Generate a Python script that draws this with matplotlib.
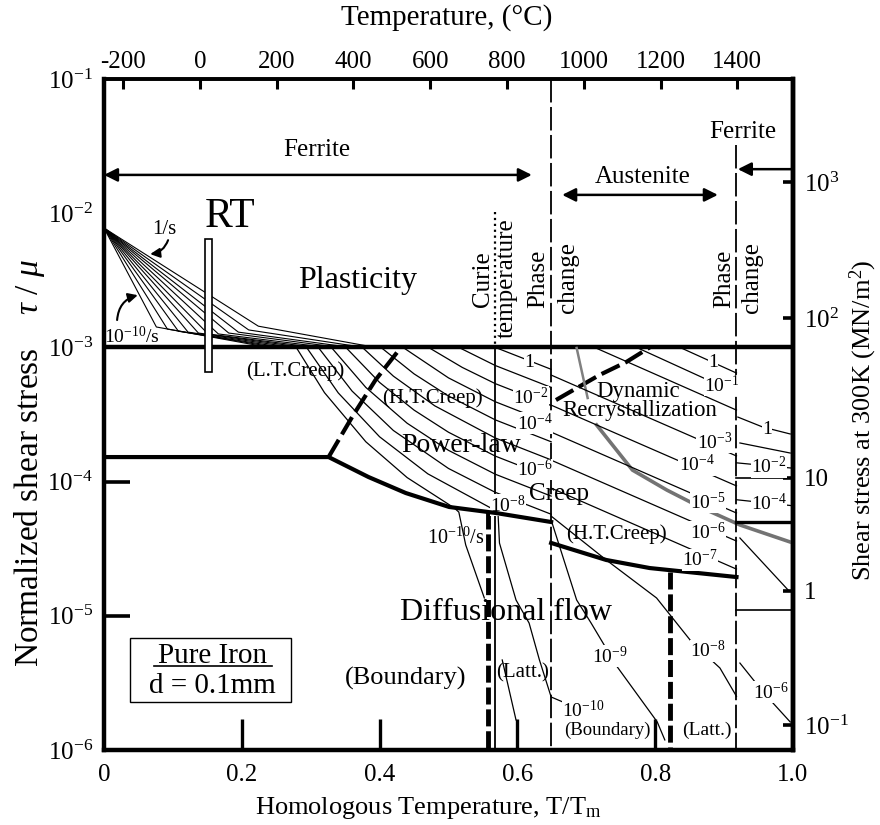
import matplotlib
matplotlib.use("Agg")
import matplotlib.pyplot as plt
from matplotlib.patches import Rectangle
from matplotlib.ticker import NullLocator
import numpy as np

plt.rcParams['font.family'] = ['Liberation Serif', 'DejaVu Serif']
plt.rcParams['mathtext.fontset'] = 'custom'
plt.rcParams['mathtext.rm'] = 'Liberation Serif'
plt.rcParams['mathtext.it'] = 'Liberation Serif:italic'
plt.rcParams['axes.unicode_minus'] = False

# top axis conversion: T/Tm = (C + offset) / scale
C_SCALE, C_OFFSET = 1795.0, 250.0

X_TICKS = [0, 0.2, 0.4, 0.6, 0.8, 1.0]
X_LABELS = ['0', '0.2', '0.4', '0.6', '0.8', '1.0']
Y_TICKS = [1e-6, 1e-5, 1e-4, 1e-3, 1e-2, 1e-1]
TOP_TICKS = [-200, 0, 200, 400, 600, 800, 1000, 1200, 1400]
# shear stress at 300 K (MN/m^2) ticks, placed where the picture puts them (log10 tau/mu)
RIGHT_TICK_LOG = [-5.814, -4.815, -3.973, -2.781, -1.767]
RIGHT_LABELS = ['10$^{-1}$', '1', '10', '10$^{2}$', '10$^{3}$']

# phase / mechanism boundaries, h = T/Tm, values are log10(tau/mu)
CURIE_H = 0.568
PHASE_H = [0.649, 0.918]
PHASE2_TOP_LOG = -1.49
CURIE_TOP_LOG = -1.99
PL_FERRITE_H = [0.0, 0.326, 0.384, 0.438, 0.501, 0.569, 0.649]
PL_FERRITE_LOG = [-3.817, -3.817, -3.966, -4.085, -4.189, -4.234, -4.301]
PL_AUST_H = [0.649, 0.729, 0.792, 0.918]
PL_AUST_LOG = [-4.457, -4.584, -4.644, -4.711]
LTHT_H = [0.326, 0.360, 0.394, 0.431]
LTHT_LOG = [-3.817, -3.519, -3.243, -3.0]
DRX_DASH_H = [0.656, 0.719, 0.758, 0.792]
DRX_DASH_LOG = [-3.392, -3.206, -3.109, -3.0]
DRX_GRAY_H = [0.715, 0.767, 0.817, 0.865, 0.923, 0.996]
DRX_GRAY_LOG = [-3.578, -3.914, -4.063, -4.189, -4.323, -4.45]
DRX_SMALL_H = [0.686, 0.702]
DRX_SMALL_LOG = [-3.004, -3.377]
GB_LATT_H = [0.557, 0.821]            # thick dashed verticals
GB_LATT_TOP_LOG = [-4.226, -4.674]
HIGH_FERRITE_THIN_LOG = [-3.973, -4.957]
HIGH_FERRITE_THICK_LOG = [-4.301]

# plasticity fan (1/s ... 1e-10/s), origin, knees, ends on the 1e-3 line
FAN_ORIGIN = (0.0, 7.76e-3)
FAN_KNEE_H = [0.224, 0.210, 0.195, 0.181, 0.166, 0.151, 0.137, 0.122, 0.108, 0.092, 0.076]
FAN_KNEE_S = [1.44e-3, 1.35e-3, 1.30e-3, 1.28e-3, 1.26e-3, 1.26e-3, 1.28e-3, 1.30e-3,
              1.32e-3, 1.37e-3, 1.42e-3]
FAN_END_H = [0.394, 0.377, 0.358, 0.341, 0.323, 0.306, 0.290, 0.275, 0.261, 0.249, 0.239]

# power-law creep contours in ferrite, 1/s down to 1e-10/s
FERRITE_PL = [
    ([0.568, 0.649], [-3.000, -3.163]),
    ([0.515, 0.568, 0.649], [-3.0, -3.135, -3.298]),
    ([0.471, 0.52, 0.568, 0.649], [-3.0, -3.149, -3.270, -3.433]),
    ([0.434, 0.50, 0.568, 0.649], [-3.0, -3.227, -3.405, -3.568]),
    ([0.402, 0.45, 0.50, 0.568, 0.649], [-3.0, -3.197, -3.362, -3.540, -3.703]),
    ([0.375, 0.42, 0.48, 0.568, 0.649], [-3.0, -3.214, -3.435, -3.675, -3.838]),
    ([0.351, 0.40, 0.45, 0.50, 0.568, 0.649], [-3.0, -3.261, -3.467, -3.632, -3.810, -3.973]),
    ([0.330, 0.38, 0.44, 0.50, 0.568, 0.649], [-3.0, -3.298, -3.565, -3.767, -3.945, -4.108]),
    ([0.311, 0.36, 0.42, 0.50, 0.568, 0.649], [-3.0, -3.325, -3.619, -3.902, -4.080, -4.243]),
    ([0.294, 0.34, 0.40, 0.47, 0.568, 0.584], [-3.0, -3.339, -3.666, -3.942, -4.215, -4.25]),
    ([0.279, 0.32, 0.38, 0.44, 0.508, 0.515, 0.525, 0.552],
     [-3.0, -3.337, -3.703, -3.970, -4.195, -4.227, -4.472, -4.867]),
]
PARA_LABELS = ['1', '10$^{-2}$', '10$^{-4}$', '10$^{-6}$', '10$^{-8}$']
PARA_LABEL_H = [0.617, 0.620, 0.625, 0.625, 0.586]
PARA_LABEL_LOG = [-3.116, -3.370, -3.565, -3.910, -4.175]

# austenite contours
AUST_PL = [
    ([0.836, 0.918], [-3.0, -3.191]),
    ([0.773, 0.918], [-3.0, -3.340]),
    ([0.712, 0.918], [-3.0, -3.467]),
    ([0.649, 0.918], [-3.206, -3.809]),
    ([0.649, 0.918], [-3.430, -4.032]),
    ([0.649, 0.918], [-3.631, -4.234]),
    ([0.649, 0.918], [-3.840, -4.443]),
    ([0.649, 0.918], [-4.048, -4.652]),
    ([0.649, 0.729, 0.802, 0.853, 0.894, 0.918], [-4.257, -4.584, -4.867, -5.195, -5.389, -5.600]),
    ([0.649, 0.686, 0.707, 0.745, 0.803, 0.814], [-4.286, -4.882, -5.054, -5.381, -5.791, -5.925]),
]
AUST_LABELS = ['1', '10$^{-1}$', '10$^{-3}$', '10$^{-4}$', '10$^{-5}$', '10$^{-6}$', '10$^{-7}$',
               '10$^{-8}$', '10$^{-9}$', '10$^{-10}$']
AUST_LABEL_H = [0.884, 0.897, 0.886, 0.860, 0.876, 0.876, 0.865, 0.876, 0.734, 0.696]
AUST_LABEL_LOG = [-3.109, -3.285, -3.705, -3.876, -4.152, -4.376, -4.584, -5.262, -5.300, -5.702]

# diffusional contours near the Curie line
PARA_DIFF = [
    ([0.572, 0.574, 0.598, 0.617, 0.632, 0.649, 0.665],
     [-4.249, -4.458, -4.882, -5.054, -5.329, -5.605, -5.64]),
    ([0.578, 0.598], [-5.329, -5.776]),
]

# high temperature ferrite contours
HIGH_FERRITE = [
    ([0.920, 0.956, 0.996], [-3.519, -3.593, -3.645]),
    ([0.923, 0.996], [-3.712, -3.787]),
    ([0.918, 1.0], [-3.86, -3.90]),
    ([0.918, 1.0], [-4.135, -4.18]),
    ([0.923, 0.993], [-4.420, -4.808]),
    ([0.923, 0.945, 0.971, 0.996], [-5.352, -5.493, -5.650, -5.791]),
]
HIGH_LABELS = ['1', '10$^{-2}$', '10$^{-4}$', '10$^{-6}$']
HIGH_LABEL_H = [0.962, 0.965, 0.965, 0.968]
HIGH_LABEL_LOG = [-3.615, -3.891, -4.165, -5.568]


def h2c(h):
    return np.asarray(h) * C_SCALE - C_OFFSET


def c2h(c):
    return (np.asarray(c) + C_OFFSET) / C_SCALE


def line(ax, h, lg, **kw):
    kw.setdefault('color', 'k')
    ax.plot(h, 10.0 ** np.asarray(lg, dtype=float), **kw)


def main():
    fig = plt.figure(figsize=(8.8, 8.25), dpi=100)
    ax = fig.add_axes([0.1182, 0.0909, 0.7829, 0.8133])
    ax.set_yscale('log')
    ax.set_xlim(0, 1)
    ax.set_ylim(1e-6, 1e-1)
    for side, w in [('left', 3.2), ('bottom', 3.2), ('top', 2.6), ('right', 3.2)]:
        ax.spines[side].set_linewidth(w)

    ax.set_xticks(X_TICKS)
    ax.set_xticklabels(X_LABELS)
    ax.set_yticks(Y_TICKS)
    ax.yaxis.set_minor_locator(NullLocator())
    ax.xaxis.set_minor_locator(NullLocator())
    ax.tick_params(axis='x', direction='in', length=22, width=2.4, labelsize=18, pad=10)
    ax.tick_params(axis='y', direction='in', length=19, width=2.6, labelsize=18, pad=8)
    for t, v in zip(ax.yaxis.get_major_ticks(), Y_TICKS):
        if v in (1e-6, 1e-3, 1e-2, 1e-1):
            t.tick1line.set_visible(False)
    for t, v in zip(ax.xaxis.get_major_ticks(), X_TICKS):
        if v in (0, 1.0):
            t.tick1line.set_visible(False)

    top = ax.secondary_xaxis('top', functions=(h2c, c2h))
    top.set_xticks(TOP_TICKS)
    top.xaxis.set_minor_locator(NullLocator())
    top.tick_params(direction='in', length=7, width=2.2, labelsize=18, pad=4)
    top.spines['top'].set_linewidth(2.6)

    right = ax.secondary_yaxis('right')
    right.set_yticks(10.0 ** np.array(RIGHT_TICK_LOG))
    right.set_yticklabels(RIGHT_LABELS)
    right.yaxis.set_minor_locator(NullLocator())
    right.tick_params(direction='in', length=7, width=2.6, labelsize=18, pad=8)
    right.spines['right'].set_linewidth(3.2)

    fig.text(0.508, 1 - 18 / 825, 'Temperature, (°C)', ha='center', va='center', fontsize=21)
    fig.text(428 / 880, 1 - 808 / 825, 'Homologous Temperature, T/T$_\\mathrm{m}$',
             ha='center', va='center', fontsize=19)
    fig.text(30 / 880, 1 - 463 / 825, 'Normalized shear stress    $\\tau$ / $\\mu$', rotation=90,
             ha='center', va='center', fontsize=24)
    fig.text(863 / 880, 1 - 420 / 825, 'Shear stress at 300K (MN/m$^2$)', rotation=90,
             ha='center', va='center', fontsize=19)

    # main boundaries
    ax.plot([0, 1], [1e-3, 1e-3], color='k', lw=3.2)
    line(ax, PL_FERRITE_H, PL_FERRITE_LOG, lw=3.0, zorder=7)
    line(ax, PL_AUST_H, PL_AUST_LOG, lw=3.0)
    line(ax, LTHT_H, LTHT_LOG, lw=3.0, ls=(0, (4.8, 1.5)))
    line(ax, DRX_DASH_H, DRX_DASH_LOG, lw=3.0, ls=(0, (4.8, 1.5)))
    line(ax, DRX_GRAY_H, DRX_GRAY_LOG, lw=2.6, color='0.45')
    line(ax, DRX_SMALL_H, DRX_SMALL_LOG, lw=1.8, color='0.5')
    for h, lg in zip(GB_LATT_H, GB_LATT_TOP_LOG):
        line(ax, [h, h], [lg, -6.0], lw=3.5, ls=(0, (3.5, 1.0)))

    line(ax, [CURIE_H, CURIE_H], [CURIE_TOP_LOG, -3.0], lw=1.6, ls=':')
    line(ax, [CURIE_H, CURIE_H], [-3.0, -6.0], lw=1.3)
    line(ax, [PHASE_H[0]] * 2, [-1.0, -6.0], lw=1.3, ls=(0, (13, 2.5)))
    line(ax, [PHASE_H[1]] * 2, [PHASE2_TOP_LOG, -6.0], lw=1.3, ls=(0, (13, 2.5)))
    for lg in HIGH_FERRITE_THIN_LOG:
        line(ax, [PHASE_H[1], 1.0], [lg, lg], lw=1.2)
    for lg in HIGH_FERRITE_THICK_LOG:
        line(ax, [PHASE_H[1], 1.0], [lg, lg], lw=2.4)

    # plasticity fan
    for kh, ks, eh in zip(FAN_KNEE_H, FAN_KNEE_S, FAN_END_H):
        ax.plot([FAN_ORIGIN[0], kh, eh], [FAN_ORIGIN[1], ks, 1e-3], color='k', lw=0.8)
    ax.add_patch(Rectangle((0.147, 6.56e-4), 0.010, 6.43e-3 - 6.56e-4, fc='white',
                           ec='k', lw=1.2, zorder=5))

    # strain rate contours
    for h, lg in FERRITE_PL + AUST_PL + PARA_DIFF + HIGH_FERRITE:
        line(ax, h, lg, lw=0.9)

    lab = dict(ha='center', va='center', fontsize=14, zorder=6,
               bbox=dict(fc='white', ec='none', pad=0.2))
    for txt, h, lg in zip(PARA_LABELS + AUST_LABELS + HIGH_LABELS,
                          PARA_LABEL_H + AUST_LABEL_H + HIGH_LABEL_H,
                          PARA_LABEL_LOG + AUST_LABEL_LOG + HIGH_LABEL_LOG):
        ax.text(h, 10 ** lg, txt, **lab)

    # arrows
    ax.annotate('', xy=(0.0, 1.93e-2), xytext=(0.621, 1.93e-2),
                arrowprops=dict(arrowstyle='<|-|>', lw=1.8, color='k', mutation_scale=20,
                                shrinkA=0, shrinkB=0))
    ax.annotate('', xy=(0.665, 1.37e-2), xytext=(0.891, 1.37e-2),
                arrowprops=dict(arrowstyle='<|-|>', lw=1.8, color='k', mutation_scale=20,
                                shrinkA=0, shrinkB=0))
    ax.annotate('', xy=(0.92, 2.13e-2), xytext=(1.0, 2.13e-2),
                arrowprops=dict(arrowstyle='-|>', lw=1.8, color='k', mutation_scale=20,
                                shrinkA=0, shrinkB=0))
    ax.annotate('', xy=(0.067, 4.96e-3), xytext=(0.093, 6.3e-3),
                arrowprops=dict(arrowstyle='-|>', lw=1.5, color='k', mutation_scale=14,
                                shrinkA=0, shrinkB=0, connectionstyle='arc3,rad=-0.3'))
    ax.annotate('', xy=(0.049, 2.45e-3), xytext=(0.019, 1.6e-3),
                arrowprops=dict(arrowstyle='-|>', lw=1.5, color='k', mutation_scale=14,
                                shrinkA=0, shrinkB=0, connectionstyle='arc3,rad=-0.35'))

    # region texts
    t = dict(ha='center', va='center')
    ax.text(0.309, 2.96e-2, 'Ferrite', fontsize=18, **t)
    ax.text(0.782, 1.86e-2, 'Austenite', fontsize=18, **t)
    ax.text(0.927, 4.03e-2, 'Ferrite', fontsize=18, **t)
    ax.text(0.183, 9.37e-3, 'RT', fontsize=30, **t)
    ax.text(0.368, 3.13e-3, 'Plasticity', fontsize=23, **t)
    ax.text(0.087, 7.5e-3, '1/s', fontsize=15, **t)
    ax.text(0.040, 1.2e-3, '10$^{-10}$/s', fontsize=14, **t)
    ax.text(0.277, 6.67e-4, '(L.T.Creep)', fontsize=15, zorder=6, **t)
    ax.text(0.476, 4.2e-4, '(H.T.Creep)', fontsize=15, zorder=6, **t)
    ax.text(0.518, 1.87e-4, 'Power-law', fontsize=20, zorder=6, **t)
    ax.text(0.660, 8.1e-5, 'Creep', fontsize=18, zorder=6, **t)
    ax.text(0.775, 4.73e-4, 'Dynamic', fontsize=16.5, zorder=6, **t)
    ax.text(0.777, 3.36e-4, 'Recrystallization', fontsize=16.5, zorder=6, **t)
    ax.text(0.584, 1.05e-5, 'Diffusional flow', fontsize=23, zorder=6, **t)
    ax.text(0.511, 3.8e-5, '10$^{-10}$/s', fontsize=14.5, zorder=6, **t)
    ax.text(0.744, 4.07e-5, '(H.T.Creep)', fontsize=15, zorder=6, **t)
    ax.text(0.438, 3.44e-6, '(Boundary)', fontsize=19, zorder=6, **t)
    ax.text(0.607, 3.75e-6, '(Latt.)', fontsize=15, zorder=6, **t)
    ax.text(0.731, 1.41e-6, '(Boundary)', fontsize=13.5, zorder=6, **t)
    ax.text(0.875, 1.41e-6, '(Latt.)', fontsize=14, zorder=6, **t)

    rot = dict(ha='center', va='center', rotation=90, fontsize=18)
    ax.text(0.550, 3.24e-3, 'Curie', **rot)
    ax.text(0.585, 3.3e-3, 'temperature', **rot)
    ax.text(0.630, 3.24e-3, 'Phase', **rot)
    ax.text(0.674, 3.3e-3, 'change', **rot)
    ax.text(0.900, 3.24e-3, 'Phase', **rot)
    ax.text(0.940, 3.3e-3, 'change', **rot)

    # sample box
    ax.add_patch(Rectangle((0.038, 2.28e-6), 0.234, 6.84e-6 - 2.28e-6, fc='white',
                           ec='k', lw=1.0, zorder=5))
    ax.text(0.157, 5.01e-6, 'Pure Iron', fontsize=21, zorder=6, **t)
    ax.plot([0.072, 0.244], [4.25e-6, 4.25e-6], color='k', lw=1.2, zorder=6)
    ax.text(0.157, 3.0e-6, 'd = 0.1mm', fontsize=21, zorder=6, **t)

    fig.savefig('out.png', dpi=100)


if __name__ == '__main__':
    main()
